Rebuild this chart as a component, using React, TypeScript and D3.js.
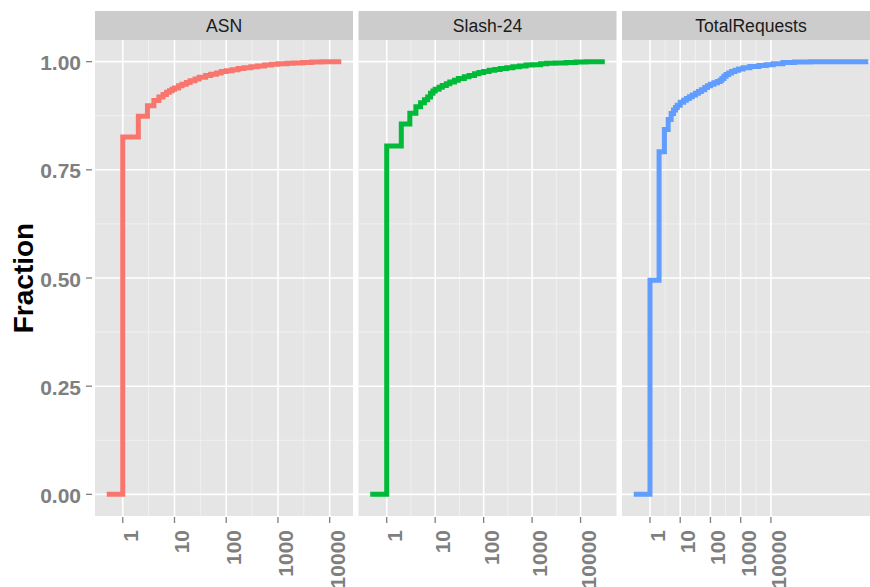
import React from 'react';
import * as d3 from 'd3';

// facet titles and line colours (ggplot hue palette)
const facetNames = ['ASN', 'Slash-24', 'TotalRequests'];
const facetColors = ['#F8766D', '#00BA38', '#619CFF'];

// ECDF points: x (log scale) and cumulative fraction
const asnX = [0.49, 1, 2, 3, 4, 5, 6, 7, 8, 9, 10, 12, 14, 17, 20, 25, 30, 40, 50, 65, 80, 100, 130, 170, 220, 300, 400, 550, 750, 1000, 1500, 2000, 3000, 4500, 7000, 16750];
const asnY = [0, 0.826, 0.874, 0.898, 0.910, 0.918, 0.924, 0.929, 0.933, 0.936, 0.939, 0.944, 0.948, 0.952, 0.956, 0.960, 0.964, 0.968, 0.971, 0.974, 0.977, 0.979, 0.981, 0.984, 0.986, 0.988, 0.990, 0.992, 0.994, 0.995, 0.996, 0.997, 0.998, 0.999, 1.0, 1.0];

const slashX = [0.457, 1, 2, 3, 4, 5, 6, 7, 8, 9, 10, 12, 14, 17, 20, 25, 30, 40, 50, 65, 80, 100, 130, 170, 220, 300, 400, 550, 750, 1000, 1500, 2000, 3000, 5000, 8000, 13000, 31600];
const slashY = [0, 0.805, 0.856, 0.881, 0.896, 0.905, 0.912, 0.918, 0.927, 0.932, 0.936, 0.941, 0.945, 0.949, 0.953, 0.957, 0.961, 0.965, 0.968, 0.972, 0.975, 0.977, 0.980, 0.982, 0.984, 0.986, 0.988, 0.990, 0.992, 0.993, 0.995, 0.996, 0.997, 0.998, 0.999, 1.0, 1.0];

const totalX = [0.29, 1, 2, 3, 4, 5, 6, 7, 8, 10, 13, 16, 20, 25, 32, 40, 50, 65, 80, 100, 130, 170, 210, 240, 280, 330, 400, 500, 650, 850, 1200, 2000, 4000, 7000, 12000, 25000, 60000, 200000, 16600000];
const totalY = [0, 0.495, 0.792, 0.843, 0.866, 0.880, 0.888, 0.894, 0.899, 0.906, 0.911, 0.915, 0.919, 0.923, 0.927, 0.931, 0.935, 0.940, 0.944, 0.948, 0.951, 0.954, 0.957, 0.961, 0.966, 0.970, 0.974, 0.977, 0.980, 0.983, 0.986, 0.989, 0.991, 0.993, 0.995, 0.998, 0.999, 1.0, 1.0];

const seriesX = [asnX, slashX, totalX];
const seriesY = [asnY, slashY, totalY];

const xBreaks = [1, 10, 100, 1000, 10000];
const xMinor = [3.1623, 31.623, 316.23, 3162.3];
const yBreaks = [0, 0.25, 0.5, 0.75, 1];
const yMinor = [0.125, 0.375, 0.625, 0.875];

const W = 870;
const H = 587;
const panelTop = 40;
const panelBottom = 516;
const stripTop = 11;
const panelW = 258;
const panelGap = 5.5;
const firstLeft = 95;
const font = '"Liberation Sans", Arial, Helvetica, sans-serif';
const axisGrey = '#7f7f7f';

const y = d3.scaleLinear().domain([-0.05, 1.05]).range([panelBottom, panelTop]);

function Facet({ i }: { i: number }) {
  const left = firstLeft + i * (panelW + panelGap);
  const xs = seriesX[i];
  const ys = seriesY[i];
  const lo = Math.log10(d3.min(xs)!);
  const hi = Math.log10(d3.max(xs)!);
  const pad = (hi - lo) * 0.05;
  const x = d3.scaleLog().domain([10 ** (lo - pad), 10 ** (hi + pad)]).range([left, left + panelW]);

  const line = d3.line<number>()
    .x((_, k) => x(xs[k]))
    .y(d => y(d))
    .curve(d3.curveStepAfter);

  return (
    <g>
      <rect x={left} y={stripTop} width={panelW} height={panelTop - stripTop} fill="#cccccc" />
      <text x={left + panelW / 2} y={32} textAnchor="middle" fontSize={17.6} fill="#1a1a1a">
        {facetNames[i]}
      </text>
      <rect x={left} y={panelTop} width={panelW} height={panelBottom - panelTop} fill="#e5e5e5" />
      {yMinor.map(v => (
        <line key={'ym' + v} x1={left} x2={left + panelW} y1={y(v)} y2={y(v)} stroke="#f2f2f2" strokeWidth={0.9} />
      ))}
      {xMinor.map(v => (
        <line key={'xm' + v} x1={x(v)} x2={x(v)} y1={panelTop} y2={panelBottom} stroke="#f2f2f2" strokeWidth={0.9} />
      ))}
      {yBreaks.map(v => (
        <line key={'yb' + v} x1={left} x2={left + panelW} y1={y(v)} y2={y(v)} stroke="#ffffff" strokeWidth={1.6} />
      ))}
      {xBreaks.map(v => (
        <line key={'xb' + v} x1={x(v)} x2={x(v)} y1={panelTop} y2={panelBottom} stroke="#ffffff" strokeWidth={1.6} />
      ))}
      <path d={line(ys) || ''} fill="none" stroke={facetColors[i]} strokeWidth={5} strokeLinejoin="miter" strokeLinecap="butt" />
      {xBreaks.map(v => (
        <g key={'xt' + v}>
          <line x1={x(v)} x2={x(v)} y1={panelBottom + 1} y2={panelBottom + 7} stroke={axisGrey} strokeWidth={1.3} />
          <text
            transform={`translate(${x(v) + 15},530) rotate(-90)`}
            textAnchor="end"
            fontSize={21}
            fontWeight="bold"
            fill={axisGrey}
          >
            {String(v)}
          </text>
        </g>
      ))}
    </g>
  );
}

export default function App() {
  return (
    <svg
      width={W}
      height={H}
      style={{ position: 'absolute', left: 0, top: 0, background: '#ffffff', fontFamily: font }}
    >
      <rect width={W} height={H} fill="#ffffff" />
      {facetNames.map((_, i) => <Facet key={i} i={i} />)}
      {yBreaks.map(v => (
        <g key={'yt' + v}>
          <line x1={86} x2={92} y1={y(v)} y2={y(v)} stroke={axisGrey} strokeWidth={1.3} />
          <text x={81} y={y(v) + 8.5} textAnchor="end" fontSize={21} fontWeight="bold" fill={axisGrey}>
            {d3.format('.2f')(v)}
          </text>
        </g>
      ))}
      <text transform="translate(33,278) rotate(-90)" textAnchor="middle" fontSize={28} fontWeight="bold" fill="#000000">
        Fraction
      </text>
    </svg>
  );
}
